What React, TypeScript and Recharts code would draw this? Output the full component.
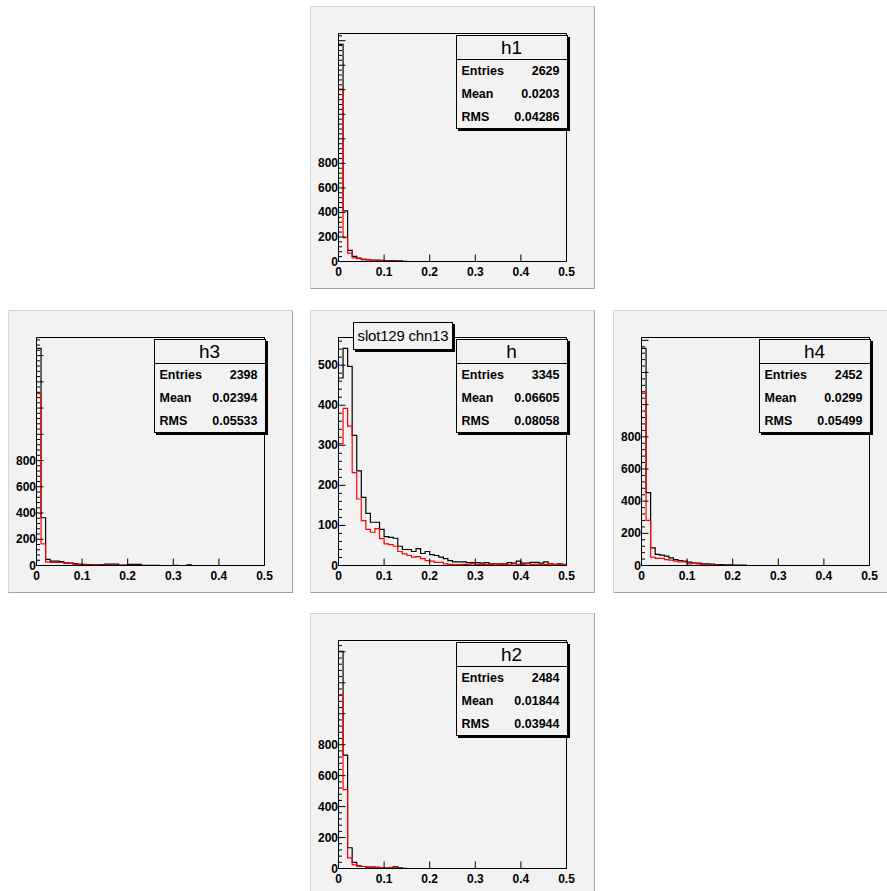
import { LineChart, Line, XAxis, YAxis, ReferenceArea } from 'recharts'

// bin edges of the 50-bin histograms (0 .. 0.5)
const BIN_EDGES = [
  0, 0.01, 0.02, 0.03, 0.04, 0.05, 0.06, 0.07, 0.08, 0.09,
  0.1, 0.11, 0.12, 0.13, 0.14, 0.15, 0.16, 0.17, 0.18, 0.19,
  0.2, 0.21, 0.22, 0.23, 0.24, 0.25, 0.26, 0.27, 0.28, 0.29,
  0.3, 0.31, 0.32, 0.33, 0.34, 0.35, 0.36, 0.37, 0.38, 0.39,
  0.4, 0.41, 0.42, 0.43, 0.44, 0.45, 0.46, 0.47, 0.48, 0.49, 0.5,
]
const X_TICKS = [0, 0.1, 0.2, 0.3, 0.4, 0.5]
const X_LABELS = ['0', '0.1', '0.2', '0.3', '0.4', '0.5']

const Y_MAJOR_BIG = [0, 200, 400, 600, 800, 1000, 1200, 1400, 1600, 1800]
const Y_LABELS_BIG = [0, 200, 400, 600, 800]
const Y_MAJOR_SMALL = [0, 100, 200, 300, 400, 500]
const Y_LABELS_SMALL = [0, 100, 200, 300, 400, 500]

// counts per bin (missing tail = 0)
const H1_BLACK = [1770, 412, 90, 41, 27, 16, 14, 12, 12, 10, 8, 8, 6, 5, 1]
const H1_RED = [1405, 194, 68, 30, 24, 20, 18, 8, 8, 6, 5, 3, 2, 1]

const H_BLACK = [
  468, 542, 497, 325, 236, 170, 130, 108, 108, 90,
  72, 70, 68, 48, 40, 40, 35, 42, 30, 35,
  27, 25, 21, 17, 12, 9, 9, 9, 7, 7,
  7, 6, 7, 4, 4, 4, 4, 7, 6, 11,
  6, 6, 8, 8, 6, 9, 4, 3, 4, 3,
]
const H_RED = [
  304, 392, 348, 232, 166, 112, 90, 83, 92, 67,
  54, 52, 48, 35, 29, 25, 21, 22, 17, 12,
  11, 8, 8, 4, 3, 2, 2, 3, 3, 4,
  3, 3, 2, 3, 4, 3, 3, 2, 4, 3,
  3, 4, 3, 3, 2, 3, 4, 2, 3, 2,
]

const H3_BLACK = [
  1655, 364, 46, 33, 33, 30, 18, 18, 14, 10,
  8, 6, 5, 5, 6, 10, 10, 10, 4, 3,
  8, 8, 8, 2, 1, 1, 1, 0, 0, 0,
  1, 0, 0, 5,
]
const H3_RED = [1310, 165, 28, 23, 23, 23, 23, 18, 8, 6, 5, 4, 4, 3, 3, 4, 2, 2, 1, 1, 1, 1, 1]

const H4_BLACK = [1350, 453, 110, 69, 65, 58, 48, 37, 31, 27, 21, 15, 15, 10, 10, 8, 6, 5, 4, 4, 3, 3, 2]
const H4_RED = [1070, 280, 52, 44, 44, 37, 33, 27, 23, 23, 10, 15, 10, 5, 4, 3, 2, 1, 1]

const H2_BLACK = [1403, 733, 134, 39, 17, 13, 9, 9, 8, 6, 3, 2, 10, 4, 1]
const H2_RED = [1122, 510, 69, 24, 15, 13, 9, 9, 8, 6, 2, 8, 3, 1]

const FONT = '"Liberation Sans", Arial, Helvetica, sans-serif'
const PANEL_BG = '#f2f2f2'
const PW = 285
const PH = 283
const ML = 28.5
const MT = 27.5
const FW = 228
const FH = 228

const PANELS = [
  { name: 'h1', left: 310, top: 6, black: H1_BLACK, red: H1_RED, entries: '2629', mean: '0.0203', rms: '0.04286' },
  { name: 'h3', left: 8, top: 310, black: H3_BLACK, red: H3_RED, entries: '2398', mean: '0.02394', rms: '0.05533' },
  { name: 'h', left: 310, top: 310, black: H_BLACK, red: H_RED, entries: '3345', mean: '0.06605', rms: '0.08058', title: 'slot129 chn13' },
  { name: 'h4', left: 613, top: 310, black: H4_BLACK, red: H4_RED, entries: '2452', mean: '0.0299', rms: '0.05499' },
  { name: 'h2', left: 310, top: 613, black: H2_BLACK, red: H2_RED, entries: '2484', mean: '0.01844', rms: '0.03944' },
]

function rowsFor(black: number[], red: number[]) {
  return BIN_EDGES.map((x, i) => {
    const k = Math.min(i, 49)
    return { x, black: black[k] ?? 0, red: red[k] ?? 0 }
  })
}

function withMinors(major: number[], ymax: number) {
  const step = (major[1] - major[0]) / 5
  const out: number[] = []
  for (let v = 0; v <= ymax; v += step) out.push(Math.round(v * 1000) / 1000)
  return out
}

function XTick(props: any) {
  const { x, y, payload } = props
  const idx = X_TICKS.indexOf(payload.value)
  return (
    <g>
      <line x1={x} x2={x} y1={y} y2={y - 7} stroke="#000" />
      <text
        x={x}
        y={y + 14.5}
        textAnchor="middle"
        fontFamily={FONT}
        fontWeight="bold"
        fontSize={12}
        fill="#000"
      >
        {idx >= 0 ? X_LABELS[idx] : ''}
      </text>
    </g>
  )
}

function makeYTick(major: number[], labels: number[]) {
  return function YTick(props: any) {
    const { x, y, payload } = props
    const v = payload.value
    const isMajor = major.includes(v)
    return (
      <g>
        <line x1={x} x2={x + (isMajor ? 7 : 3.5)} y1={y} y2={y} stroke="#000" />
        {labels.includes(v) && (
          <text
            x={x - 0.5}
            y={y + 4}
            textAnchor="end"
            fontFamily={FONT}
            fontWeight="bold"
            fontSize={12}
            fill="#000"
          >
            {v}
          </text>
        )}
      </g>
    )
  }
}

function StatsBox({ name, entries, mean, rms }: { name: string; entries: string; mean: string; rms: string }) {
  const w = 112
  const rows = [
    ['Entries', entries],
    ['Mean', mean],
    ['RMS', rms],
  ]
  return (
    <div
      style={{
        position: 'absolute',
        left: ML + FW - w,
        top: MT,
        width: w,
        height: 94,
        boxSizing: 'border-box',
        border: '1px solid #000',
        boxShadow: '2px 2px 0 #000',
        background: PANEL_BG,
        fontFamily: FONT,
        color: '#000',
      }}
    >
      <div
        style={{
          height: 23,
          borderBottom: '1px solid #000',
          textAlign: 'center',
          fontSize: 19,
          lineHeight: '23px',
        }}
      >
        {name}
      </div>
      {rows.map(([k, v]) => (
        <div
          key={k}
          style={{
            height: 23,
            display: 'flex',
            justifyContent: 'space-between',
            alignItems: 'center',
            padding: '0 7px 0 5px',
            fontSize: 12.5,
            fontWeight: 'bold',
          }}
        >
          <span>{k}</span>
          <span>{v}</span>
        </div>
      ))}
    </div>
  )
}

function Panel(p: (typeof PANELS)[number]) {
  const data = rowsFor(p.black, p.red)
  const ymax = Math.max(...p.black) * 1.05
  const major = p.name === 'h' ? Y_MAJOR_SMALL : Y_MAJOR_BIG
  const labels = p.name === 'h' ? Y_LABELS_SMALL : Y_LABELS_BIG
  const yTicks = withMinors(major, ymax)
  const YTick = makeYTick(major, labels)
  return (
    <div
      style={{
        position: 'absolute',
        left: p.left,
        top: p.top,
        width: PW,
        height: PH,
        boxSizing: 'border-box',
        background: PANEL_BG,
        borderTop: '1px solid #d4d4d4',
        borderLeft: '1px solid #d4d4d4',
        borderRight: '1px solid #a0a0a0',
        borderBottom: '1px solid #a0a0a0',
      }}
    >
      <div style={{ position: 'absolute', left: -1, top: -1 }}>
        <LineChart
          width={PW}
          height={PH}
          data={data}
          margin={{ top: MT, left: 0.5, right: PW - ML - FW, bottom: 0.5 }}
        >
          <XAxis
            dataKey="x"
            type="number"
            domain={[0, 0.5]}
            ticks={X_TICKS}
            interval={0}
            height={PH - MT - FH - 0.5}
            tickSize={0}
            tickMargin={0}
            tickLine={false}
            tick={<XTick />}
            axisLine={{ stroke: '#000' }}
          />
          <YAxis
            type="number"
            domain={[0, ymax]}
            ticks={yTicks}
            interval={0}
            width={ML - 0.5}
            tickSize={0}
            tickMargin={0}
            tickLine={false}
            tick={<YTick />}
            axisLine={{ stroke: '#000' }}
            allowDataOverflow
          />
          <ReferenceArea x1={0} x2={0.5} y1={0} y2={ymax} fill="none" stroke="#000" strokeOpacity={1} fillOpacity={0} />
          <Line
            dataKey="black"
            type="stepAfter"
            stroke="#000"
            strokeWidth={1.2}
            dot={false}
            isAnimationActive={false}
          />
          <Line
            dataKey="red"
            type="stepAfter"
            stroke="#ff0000"
            strokeWidth={1.2}
            dot={false}
            isAnimationActive={false}
          />
        </LineChart>
      </div>
      <StatsBox name={p.name} entries={p.entries} mean={p.mean} rms={p.rms} />
      {p.title && (
        <div
          style={{
            position: 'absolute',
            left: 42,
            top: 11,
            width: 100,
            height: 28,
            boxSizing: 'border-box',
            border: '1px solid #000',
            boxShadow: '2px 2px 0 #000',
            background: PANEL_BG,
            fontFamily: FONT,
            fontSize: 15,
            lineHeight: '26px',
            textAlign: 'center',
            letterSpacing: -0.2,
            whiteSpace: 'nowrap',
            color: '#000',
          }}
        >
          {p.title}
        </div>
      )}
    </div>
  )
}

export default function App() {
  return (
    <div
      style={{
        position: 'absolute',
        left: 0,
        top: 0,
        width: 887,
        height: 891,
        background: '#fff',
        overflow: 'hidden',
      }}
    >
      {PANELS.map((p) => (
        <Panel key={p.name} {...p} />
      ))}
    </div>
  )
}
